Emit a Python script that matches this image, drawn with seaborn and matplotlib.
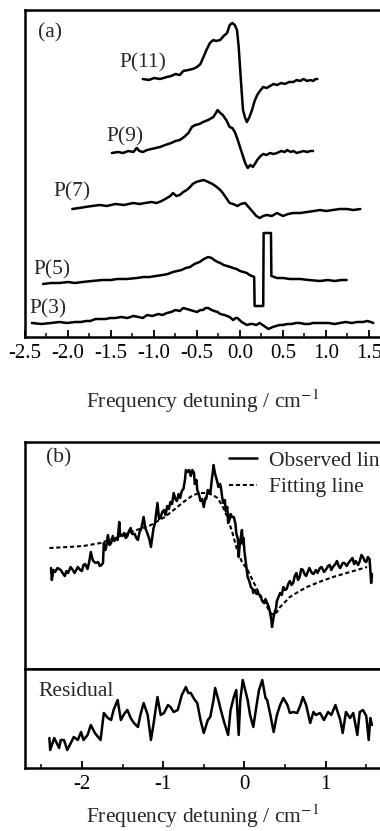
import seaborn as sns
import matplotlib.pyplot as plt
from matplotlib.lines import Line2D
from matplotlib.ticker import MultipleLocator
import pandas as pd

# ---- panel (a): spectra of the P lines (vertical offsets in arbitrary units)
p11_x = [-1.13, -1.06, -1.00, -0.93, -0.85, -0.80, -0.75, -0.70, -0.66, -0.60, -0.55, -0.50, -0.46, -0.43,
         -0.39, -0.35, -0.31, -0.28, -0.23, -0.19, -0.15, -0.12, -0.09, -0.06, -0.035, -0.015, 0.0, 0.02,
         0.035, 0.06, 0.08, 0.11, 0.14, 0.17, 0.20, 0.24, 0.27, 0.31, 0.35, 0.39, 0.43, 0.48, 0.52, 0.57,
         0.62, 0.66, 0.70, 0.74, 0.78, 0.82, 0.85, 0.88, 0.90]
p11_y = [258, 257, 259, 258, 260, 261, 263, 262, 266, 267, 268, 270, 273, 279,
         287, 294, 297, 296, 297, 301, 304, 312, 314, 312, 307, 290, 270, 245,
         227, 219, 215, 220, 227, 236, 242, 247, 250, 249, 251, 253, 252, 254, 253, 255,
         255, 257, 256, 258, 256, 257, 256, 258, 258]

p9_x = [-1.49, -1.42, -1.36, -1.30, -1.24, -1.20, -1.17, -1.13, -1.08, -1.03, -0.98, -0.93, -0.87, -0.80,
        -0.75, -0.70, -0.65, -0.60, -0.56, -0.52, -0.47, -0.43, -0.37, -0.31, -0.28, -0.26, -0.23, -0.20,
        -0.16, -0.12, -0.09, -0.06, -0.03, 0.0, 0.03, 0.06, 0.09, 0.12, 0.15, 0.18, 0.20, 0.24, 0.27,
        0.31, 0.35, 0.39, 0.43, 0.48, 0.52, 0.55, 0.59, 0.62, 0.66, 0.70, 0.74, 0.78, 0.82, 0.85]
p9_y = [184, 185, 184, 186, 185, 189, 186, 185, 187, 188, 189, 190, 192, 194,
        196, 197, 200, 204, 210, 212, 213, 215, 217, 220, 224, 227, 224, 222,
        217, 210, 209, 205, 198, 190, 182, 174, 169, 172, 170, 174, 177, 181, 183,
        182, 184, 183, 184, 186, 185, 187, 185, 186, 184, 185, 186, 185, 186, 186]

p7_x = [-1.95, -1.87, -1.80, -1.72, -1.63, -1.55, -1.45, -1.35, -1.24, -1.17, -1.10, -1.03, -0.97, -0.91,
        -0.85, -0.81, -0.78, -0.74, -0.70, -0.66, -0.62, -0.58, -0.55, -0.51, -0.47, -0.42, -0.37, -0.32,
        -0.27, -0.23, -0.20, -0.16, -0.12, -0.08, -0.03, 0.01, 0.06, 0.10, 0.15, 0.19, 0.23, 0.27, 0.31,
        0.37, 0.43, 0.50, 0.56, 0.62, 0.70, 0.78, 0.86, 0.93, 1.00, 1.08, 1.16, 1.24, 1.32, 1.40]
p7_y = [128, 129, 130, 131, 132, 131, 133, 132, 134, 133, 134, 135, 134, 136,
        139, 141, 144, 141, 142, 145, 147, 150, 153, 155, 156, 157, 155, 153,
        150, 147, 144, 139, 134, 133, 131, 133, 134, 130, 125, 121, 119, 121, 122,
        121, 124, 121, 123, 124, 124, 125, 126, 127, 126, 127, 128, 128, 127, 128]

p5_x = [-2.29, -2.20, -2.10, -2.00, -1.92, -1.83, -1.72, -1.60, -1.50, -1.43, -1.32, -1.20, -1.12, -1.05,
        -0.98, -0.90, -0.84, -0.78, -0.73, -0.68, -0.63, -0.58, -0.53, -0.47, -0.42, -0.37, -0.33, -0.30,
        -0.26, -0.23, -0.19, -0.15, -0.11, -0.08, -0.04, 0.0, 0.04, 0.08, 0.11, 0.14, 0.165, 0.17, 0.27,
        0.275, 0.36, 0.365, 0.43, 0.50, 0.58, 0.70, 0.80, 0.93, 1.02, 1.10, 1.18, 1.24]
p5_y = [53, 54, 54, 55, 54, 55, 56, 57, 57, 58, 58, 59, 60, 60,
        61, 62, 63, 65, 66, 67, 69, 70, 73, 75, 78, 80, 79, 77,
        75, 74, 72, 71, 70, 69, 68, 66, 65, 64, 62, 61, 60, 31, 31,
        104, 104, 61, 59, 59, 58, 58, 57, 56, 57, 56, 57, 57]

p3_x = [-2.42, -2.31, -2.20, -2.10, -2.01, -1.92, -1.85, -1.79, -1.74, -1.68, -1.62, -1.56, -1.51, -1.45,
        -1.38, -1.31, -1.24, -1.18, -1.13, -1.08, -1.02, -0.95, -0.90, -0.85, -0.80, -0.75, -0.70, -0.66,
        -0.62, -0.58, -0.54, -0.50, -0.46, -0.43, -0.40, -0.37, -0.33, -0.30, -0.26, -0.23, -0.18, -0.12,
        -0.08, -0.05, -0.03, 0.02, 0.08, 0.12, 0.15, 0.19, 0.23, 0.28, 0.33, 0.38, 0.42, 0.46, 0.50, 0.55,
        0.60, 0.65, 0.70, 0.75, 0.80, 0.85, 0.90, 0.97, 1.03, 1.10, 1.16, 1.23, 1.30, 1.36, 1.43, 1.48,
        1.52, 1.55]
p3_y = [14, 13, 14, 15, 14, 15, 15, 16, 16, 18, 18, 18, 19, 19,
        20, 19, 21, 20, 19, 22, 21, 23, 22, 24, 25, 27, 26, 29,
        28, 27, 26, 25, 27, 27, 29, 29, 27, 26, 25, 23, 22, 20,
        17, 19, 19, 15, 12, 13, 13, 12, 14, 11, 8, 10, 11, 12, 12, 13,
        13, 14, 14, 13, 13, 14, 14, 14, 14, 13, 14, 15, 14, 15, 15, 16,
        15, 14]

p_labels = ["P(11)", "P(9)", "P(7)", "P(5)", "P(3)"]
p_label_x = [-1.13, -1.34, -1.95, -2.19, -2.23]
p_label_y = [274, 200, 145, 67, 28]

# ---- panel (b): observed line, fitting line, residual
obs_x = [-2.38, -2.37, -2.35, -2.33, -2.30, -2.26, -2.23, -2.21, -2.19, -2.17, -2.14, -2.12, -2.09, -2.05,
         -2.02, -2.00, -1.98, -1.96, -1.93, -1.91, -1.89, -1.87, -1.86, -1.83, -1.80, -1.78, -1.76, -1.74,
         -1.73, -1.71, -1.70, -1.68, -1.66, -1.64, -1.62, -1.60, -1.58, -1.56, -1.54, -1.53, -1.50, -1.48,
         -1.46, -1.44, -1.42, -1.40, -1.38, -1.35, -1.33, -1.31, -1.29, -1.27, -1.24, -1.22, -1.20, -1.17,
         -1.15, -1.12, -1.10, -1.07, -1.05, -1.03, -1.01, -0.99, -0.97, -0.95, -0.93, -0.91, -0.89, -0.87,
         -0.85, -0.83, -0.81, -0.79, -0.77, -0.75, -0.73, -0.72, -0.70, -0.68, -0.66, -0.64, -0.62, -0.61,
         -0.59, -0.58, -0.56, -0.54, -0.52, -0.50, -0.48, -0.47, -0.45, -0.44, -0.42, -0.40, -0.39, -0.38,
         -0.36, -0.35, -0.33, -0.32, -0.30, -0.29, -0.27, -0.26, -0.24, -0.23, -0.21, -0.20, -0.18, -0.17,
         -0.15, -0.13, -0.11, -0.10, -0.08, -0.07, -0.06, -0.05, -0.03, -0.02, -0.01, 0.00, 0.02, 0.04,
         0.06, 0.08, 0.10, 0.11, 0.13, 0.15, 0.17, 0.20, 0.22, 0.24, 0.26, 0.28, 0.30, 0.31, 0.33, 0.34,
         0.36, 0.37, 0.39, 0.40, 0.42, 0.44, 0.46, 0.48, 0.50, 0.52, 0.54, 0.56, 0.58, 0.60, 0.62, 0.64,
         0.66, 0.68, 0.70, 0.72, 0.74, 0.76, 0.78, 0.80, 0.83, 0.85, 0.88, 0.90, 0.93, 0.95, 0.98, 1.00,
         1.03, 1.05, 1.07, 1.09, 1.12, 1.14, 1.16, 1.18, 1.21, 1.23, 1.26, 1.28, 1.30, 1.33, 1.35, 1.37,
         1.40, 1.42, 1.44, 1.46, 1.48, 1.50, 1.52, 1.54, 1.55, 1.56, 1.57]
obs_y = [101, 89, 99, 97, 101, 99, 95, 93, 98, 96, 102, 100, 96, 102,
         99, 98, 104, 105, 100, 107, 117, 110, 108, 106, 107, 103, 104, 106,
         126, 119, 122, 134, 124, 126, 133, 128, 131, 129, 147, 135, 133, 136,
         131, 133, 138, 141, 135, 135, 131, 129, 137, 140, 152, 141, 137, 130,
         122, 140, 146, 166, 150, 152, 157, 159, 154, 163, 160, 167, 165, 176,
         170, 168, 175, 171, 178, 180, 190, 199, 197, 199, 193, 199, 196, 185,
         189, 179, 175, 168, 170, 162, 171, 170, 179, 177, 175, 190, 196, 204,
         195, 192, 186, 182, 185, 182, 170, 166, 169, 158, 162, 146, 150, 155,
         152, 152, 145, 136, 130, 112, 122, 128, 139, 125, 131, 118, 105, 92,
         88, 82, 80, 76, 79, 75, 76, 72, 68, 66, 70, 66, 62, 59, 50, 42,
         52, 56, 61, 68, 72, 76, 74, 82, 79, 80, 85, 88, 84, 86, 93, 96,
         89, 92, 100, 99, 95, 93, 97, 101, 96, 95, 99, 96, 101, 102, 97, 99,
         103, 104, 99, 102, 105, 108, 103, 101, 106, 106, 103, 106, 108, 111, 105, 108,
         104, 108, 114, 112, 108, 107, 112, 110, 99, 86, 95]

fit_x = [-2.40, -2.17, -1.98, -1.77, -1.56, -1.36, -1.15, -0.98, -0.87, -0.75, -0.63, -0.54, -0.45, -0.39,
         -0.33, -0.27, -0.21, -0.15, -0.09, -0.03, 0.04, 0.10, 0.16, 0.23, 0.28, 0.32, 0.36, 0.40, 0.44,
         0.50, 0.56, 0.66, 0.77, 0.92, 1.09, 1.30, 1.51]
fit_y = [121, 122, 123, 126, 132, 138, 144, 152, 159, 167, 174, 176, 176, 174,
         171, 163, 152, 137, 119, 107, 99, 89, 79, 69, 62, 56, 54, 57, 62,
         67, 72, 77, 82, 87, 92, 97, 102]

res_x = [-2.40, -2.39, -2.34, -2.28, -2.26, -2.22, -2.18, -2.13, -2.10, -2.05, -2.01, -1.98, -1.93, -1.89,
         -1.84, -1.80, -1.77, -1.73, -1.68, -1.64, -1.61, -1.56, -1.52, -1.48, -1.44, -1.40, -1.36, -1.31,
         -1.28, -1.24, -1.19, -1.15, -1.12, -1.07, -1.03, -0.99, -0.94, -0.91, -0.87, -0.82, -0.77, -0.72,
         -0.69, -0.66, -0.61, -0.58, -0.54, -0.50, -0.45, -0.42, -0.38, -0.36, -0.32, -0.29, -0.25, -0.20,
         -0.17, -0.13, -0.10, -0.07, -0.05, -0.02, 0.01, 0.04, 0.07, 0.11, 0.15, 0.18, 0.22, 0.26, 0.28,
         0.32, 0.36, 0.40, 0.44, 0.48, 0.53, 0.56, 0.60, 0.65, 0.69, 0.72, 0.76, 0.81, 0.85, 0.88, 0.93,
         0.98, 1.03, 1.07, 1.12, 1.18, 1.21, 1.25, 1.30, 1.34, 1.39, 1.42, 1.46, 1.50, 1.53, 1.55, 1.57]
res_y = [30, 18, 30, 20, 28, 28, 18, 26, 31, 28, 36, 28, 33, 43,
         35, 31, 28, 55, 50, 48, 58, 68, 48, 54, 58, 50, 45, 41,
         53, 65, 53, 28, 43, 71, 53, 55, 63, 61, 56, 58, 73, 81,
         75, 75, 68, 65, 48, 35, 48, 51, 68, 80, 68, 58, 46, 33,
         58, 71, 78, 33, 68, 88, 78, 68, 53, 41, 63, 78, 88, 70, 68,
         53, 36, 53, 63, 70, 63, 55, 56, 55, 63, 71, 63, 45, 56, 53, 55,
         48, 56, 53, 63, 48, 35, 56, 50, 55, 33, 56, 58, 52, 28, 50, 43]

sns.set_theme(style="ticks")
plt.rcParams["font.family"] = ["Liberation Serif", "DejaVu Serif"]
plt.rcParams["mathtext.fontset"] = "stix"
plt.rcParams["axes.unicode_minus"] = False
plt.rcParams["xtick.direction"] = "in"

W, H = 380, 831
fig = plt.figure(figsize=(W / 100, H / 100), dpi=100)


def frac(left, top, right, bottom):
    return [left / W, 1 - bottom / H, (right - left) / W, (bottom - top) / H]


def style_axes(ax, lw=1.8):
    for side in ["left", "top", "bottom", "right"]:
        ax.spines[side].set_linewidth(lw)
        ax.spines[side].set_color("black")
    ax.spines["right"].set_visible(False)
    ax.set_yticks([])
    ax.tick_params(axis="x", which="major", length=5, width=1.3, labelsize=15, pad=5, colors="black")
    ax.tick_params(axis="x", which="minor", length=3, width=1.3)
    ax.set_ylabel("")


line_kw = dict(color="black", linewidth=1.8, sort=False, estimator=None, legend=False)
dash = (0, (2.0, 1.3))

# panel (a)
ax_a = fig.add_axes(frac(25, 10, 380, 337))
traces = [(p11_x, p11_y), (p9_x, p9_y), (p7_x, p7_y), (p5_x, p5_y), (p3_x, p3_y)]
for xs, ys in traces:
    sns.lineplot(data=pd.DataFrame({"x": xs, "y": ys}), x="x", y="y", ax=ax_a, **line_kw)
for lab, lx, ly in zip(p_labels, p_label_x, p_label_y):
    ax_a.text(lx, ly, lab, ha="center", va="center", fontsize=15.5)
ax_a.text(-2.21, 304, "(a)", ha="center", va="center", fontsize=15.5)
ax_a.set_xlim(-2.5, 1.628)
ax_a.set_ylim(0, 327)
ax_a.xaxis.set_major_locator(MultipleLocator(0.5))
ax_a.xaxis.set_minor_locator(MultipleLocator(0.25))
ax_a.xaxis.set_major_formatter(plt.FormatStrFormatter("%.1f"))
style_axes(ax_a)
ax_a.set_xlabel("Frequency detuning / cm$^{-1}$", fontsize=15.5, labelpad=18)

# panel (b) upper
ax_b = fig.add_axes(frac(25, 442, 380, 669))
sns.lineplot(data=pd.DataFrame({"x": obs_x, "y": obs_y}), x="x", y="y", ax=ax_b, **line_kw)
sns.lineplot(data=pd.DataFrame({"x": fit_x, "y": fit_y}), x="x", y="y", ax=ax_b,
             color="black", linewidth=1.5, linestyle=dash, sort=False, estimator=None,
             legend=False)
ax_b.set_xlim(-2.70, 1.669)
ax_b.set_ylim(0, 227)
ax_b.set_xticks([])
style_axes(ax_b)
ax_b.set_xlabel("")
ax_b.text(-2.29, 211, "(b)", ha="center", va="center", fontsize=15.5)
handles = [Line2D([], [], color="black", linewidth=1.8),
           Line2D([], [], color="black", linewidth=1.5, linestyle=dash)]
ax_b.legend(handles, ["Observed line", "Fitting line"], loc="upper left", bbox_to_anchor=(0.55, 1.0),
            frameon=False, fontsize=15.5, handlelength=1.3, handletextpad=0.55, labelspacing=0.3,
            borderaxespad=0.0)

# panel (b) lower: residual
ax_r = fig.add_axes(frac(25, 669, 380, 768))
sns.lineplot(data=pd.DataFrame({"x": res_x, "y": res_y}), x="x", y="y", ax=ax_r, **line_kw)
ax_r.set_xlim(-2.70, 1.669)
ax_r.set_ylim(0, 99)
ax_r.xaxis.set_major_locator(MultipleLocator(1))
ax_r.xaxis.set_minor_locator(MultipleLocator(0.5))
ax_r.xaxis.set_major_formatter(plt.FormatStrFormatter("%d"))
style_axes(ax_r)
ax_r.text(-2.53, 76, "Residual", ha="left", va="center", fontsize=15.5)
ax_r.set_xlabel("Frequency detuning / cm$^{-1}$", fontsize=15.5, labelpad=6)

fig.savefig("out.png", dpi=100)
